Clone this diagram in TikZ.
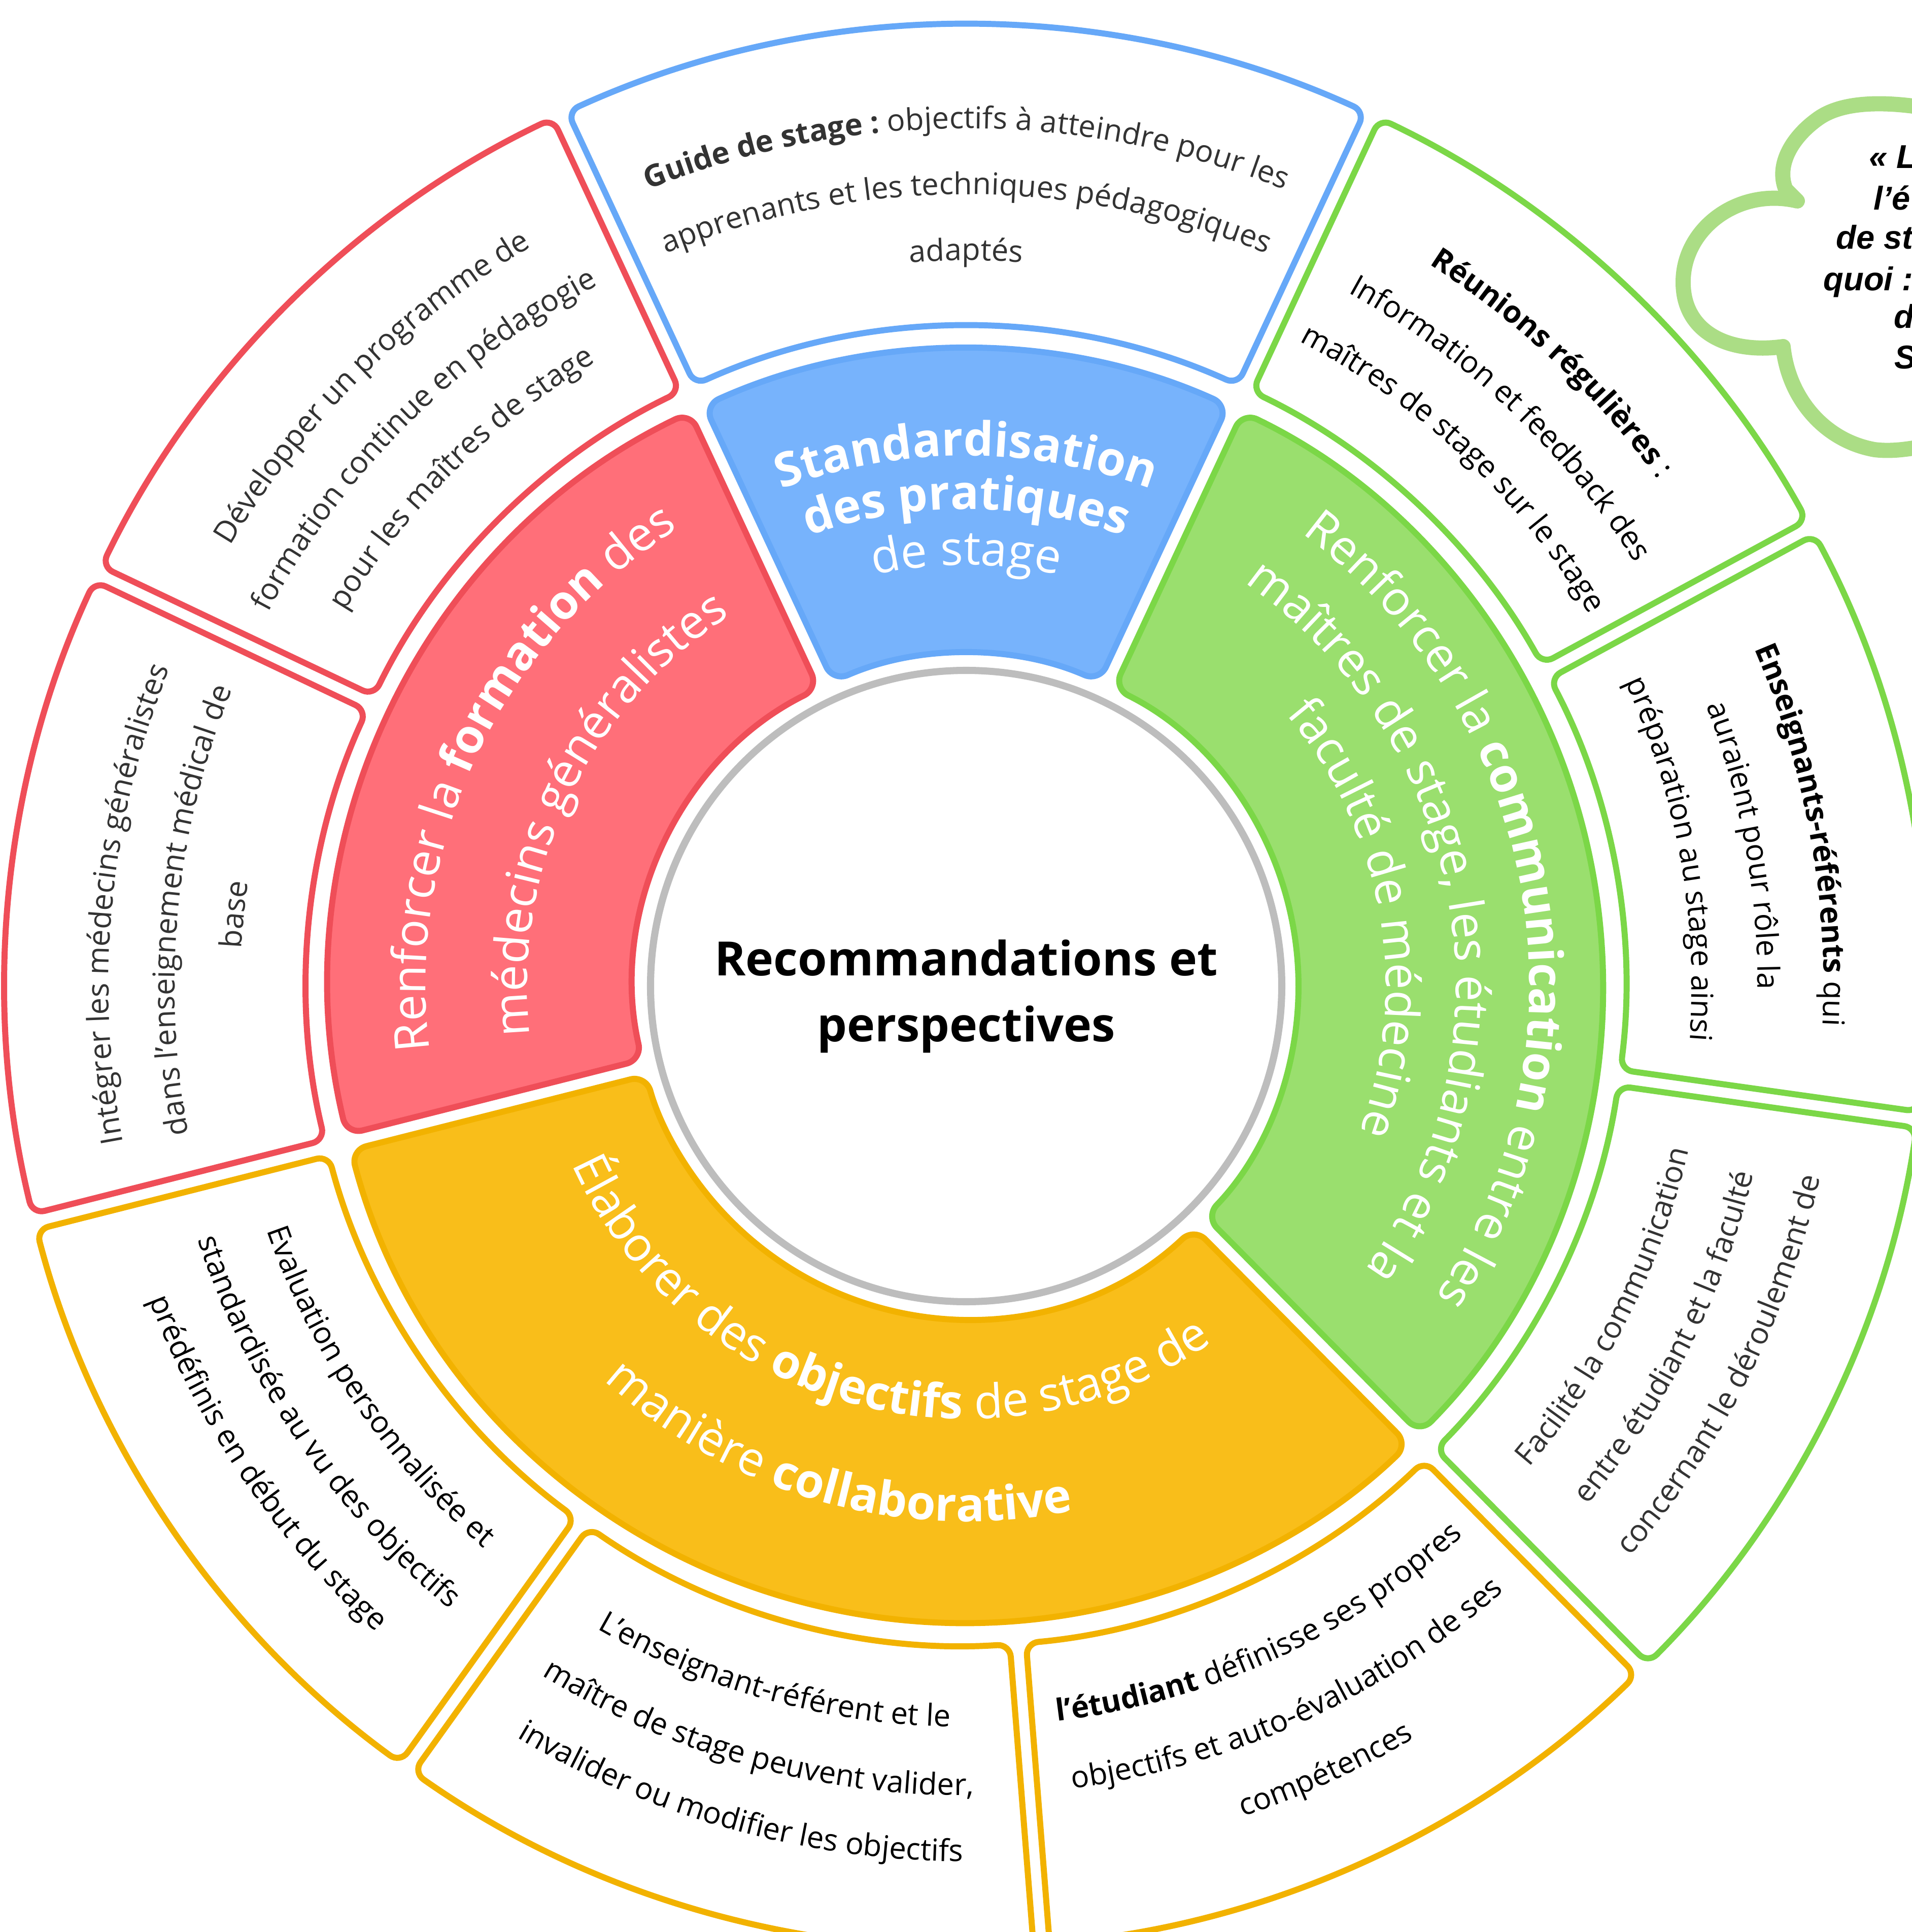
\documentclass[tikz,border=0pt]{standalone}
\usepackage{fontspec}
\setmainfont{Open Sans}
\newfontfamily\cloudfont{Liberation Sans}
\usetikzlibrary{decorations.text}

\definecolor{bluefill}{HTML}{77B3FC}
\definecolor{blueline}{HTML}{66A8F8}
\definecolor{redfill}{HTML}{FF6F79}
\definecolor{redline}{HTML}{EF4E58}
\definecolor{greenfill}{HTML}{9ADF6E}
\definecolor{greenline}{HTML}{7BD747}
\definecolor{yellowfill}{HTML}{F9BE1A}
\definecolor{yellowline}{HTML}{F2B200}
\definecolor{hubgray}{HTML}{BDBDBD}
\definecolor{cloudgreen}{HTML}{ABDD85}
\definecolor{darktext}{HTML}{333333}

\newcommand\cellfont{\fontsize{17pt}{20pt}\selectfont}
\newcommand\hubfont{\fontsize{26.5pt}{32pt}\selectfont}
% ring sector: start angle, end angle, inner radius, outer radius
\newcommand\ringsector[4]{({#1+asin(0.16/#4)}:#4) arc[start angle={#1+asin(0.16/#4)}, end angle={#2-asin(0.16/#4)}, radius=#4] -- ({#2-asin(0.16/#3)}:#3) arc[start angle={#2-asin(0.16/#3)}, end angle={#1+asin(0.16/#3)}, radius=#3] -- cycle}

\begin{document}
\begin{tikzpicture}[
    innersector/.style={draw=#1line, fill=#1fill, line width=3.4pt, rounded corners=9pt},
    outersector/.style={draw=#1line, fill=white, line width=3.4pt, rounded corners=7pt},
    ringtext/.style 2 args={decorate, decoration={text along path, text align=center, text color=#2, text={#1}}},
    cloudline/.style={anchor=base west, inner sep=0pt, font=\cloudfont\bfseries\itshape\fontsize{18.5pt}{22pt}\selectfont}
  ]
  \useasboundingbox (-19.04,-18.64) rectangle (18.64,19.43);
  \fill[white] (-19.04,-18.64) rectangle (18.64,19.43);

  % inner ring
  \draw[innersector=blue] \ringsector{65}{115}{6.55}{12.55};
  \draw[innersector=red] \ringsector{115}{194.2}{6.55}{12.55};
  \draw[innersector=yellow] \ringsector{194.2}{314.7}{6.55}{12.55};
  \draw[innersector=green] \ringsector{-45.3}{65}{6.55}{12.55};

  % outer ring
  \draw[outersector=blue] \ringsector{65}{115}{13}{18.94};
  \draw[outersector=red] \ringsector{115}{154.6}{13}{18.94};
  \draw[outersector=red] \ringsector{154.6}{194.2}{13}{18.94};
  \draw[outersector=yellow] \ringsector{194.2}{234.4}{13}{18.94};
  \draw[outersector=yellow] \ringsector{234.4}{274.5}{13}{18.94};
  \draw[outersector=yellow] \ringsector{274.5}{314.7}{13}{18.94};
  \draw[outersector=green] \ringsector{-45.3}{-8}{13}{18.94};
  \draw[outersector=green] \ringsector{-8}{28.5}{13}{18.94};
  \draw[outersector=green] \ringsector{28.5}{65}{13}{18.94};

  % hub
  \draw[hubgray, line width=4pt, fill=white] (0,0) circle[radius=6.22];
  \node[align=center, font=\bfseries\fontsize{26.5pt}{37pt}\selectfont] (hub) at (0,-0.2) {Recommandations et\\perspectives};

  % inner texts
  \path[ringtext={|\hubfont\bfseries|Standardisation}{white}] (115:10.45) arc[start angle=115, end angle=65, radius=10.45];
  \path[ringtext={|\hubfont\bfseries|des pratiques}{white}] (115:9.4) arc[start angle=115, end angle=65, radius=9.4];
  \path[ringtext={|\hubfont|de stage}{white}] (115:8.3) arc[start angle=115, end angle=65, radius=8.3];

  \path[ringtext={|\hubfont|Renforcer la |\hubfont\bfseries|formation|\hubfont\mdseries| des}{white}] (194:10.65) arc[start angle=194, end angle=115, radius=10.65];
  \path[ringtext={|\hubfont|médecins généralistes}{white}] (194:8.65) arc[start angle=194, end angle=115, radius=8.65];

  \path[ringtext={|\hubfont|Renforcer la |\hubfont\bfseries|communication|\hubfont\mdseries| entre les}{white}] (65:11.1) arc[start angle=65, end angle=-45, radius=11.1];
  \path[ringtext={|\hubfont|maîtres de stage, les étudiants et la}{white}] (65:9.65) arc[start angle=65, end angle=-45, radius=9.65];
  \path[ringtext={|\hubfont|faculté de médecine}{white}] (65:8.27) arc[start angle=65, end angle=-45, radius=8.27];

  \path[ringtext={|\hubfont|Élaborer des |\hubfont\bfseries|objectifs|\hubfont\mdseries| de stage de}{white}] (194.5:8.53) arc[start angle=194.5, end angle=314.5, radius=8.53];
  \path[ringtext={|\hubfont|manière |\hubfont\bfseries|collaborative}{white}] (194.5:10.55) arc[start angle=194.5, end angle=314.5, radius=10.55];

  % outer texts, clockwise
  \path[ringtext={|\cellfont\bfseries|Guide de stage :|\cellfont\mdseries| objectifs à atteindre pour les}{darktext}] (115:16.9) arc[start angle=115, end angle=65, radius=16.9];
  \path[ringtext={|\cellfont|apprenants et les techniques pédagogiques}{darktext}] (115:15.6) arc[start angle=115, end angle=65, radius=15.6];
  \path[ringtext={|\cellfont|adaptés}{darktext}] (115:14.3) arc[start angle=115, end angle=65, radius=14.3];

  \path[ringtext={|\cellfont|Développer un programme de}{darktext}] (154.6:16.9) arc[start angle=154.6, end angle=115, radius=16.9];
  \path[ringtext={|\cellfont|formation continue en pédagogie}{darktext}] (154.6:15.6) arc[start angle=154.6, end angle=115, radius=15.6];
  \path[ringtext={|\cellfont|pour les maîtres de stage}{darktext}] (154.6:14.3) arc[start angle=154.6, end angle=115, radius=14.3];

  \path[ringtext={|\cellfont|Intégrer les médecins généralistes}{darktext}] (194.2:16.9) arc[start angle=194.2, end angle=154.6, radius=16.9];
  \path[ringtext={|\cellfont|dans l'enseignement médical de}{darktext}] (194.2:15.6) arc[start angle=194.2, end angle=154.6, radius=15.6];
  \path[ringtext={|\cellfont|base}{darktext}] (194.2:14.3) arc[start angle=194.2, end angle=154.6, radius=14.3];

  \path[ringtext={|\cellfont\bfseries|Réunions régulières|\cellfont\mdseries| :}{black}] (65:16.9) arc[start angle=65, end angle=28.5, radius=16.9];
  \path[ringtext={|\cellfont|Information et feedback des}{black}] (65:15.6) arc[start angle=65, end angle=28.5, radius=15.6];
  \path[ringtext={|\cellfont|maîtres de stage sur le stage}{black}] (65:14.3) arc[start angle=65, end angle=28.5, radius=14.3];

  \path[ringtext={|\cellfont\bfseries|Enseignants-référents|\cellfont\mdseries| qui}{black}] (28.5:16.9) arc[start angle=28.5, end angle=-8, radius=16.9];
  \path[ringtext={|\cellfont|auraient pour rôle la}{black}] (28.5:15.6) arc[start angle=28.5, end angle=-8, radius=15.6];
  \path[ringtext={|\cellfont|préparation au stage ainsi}{black}] (28.5:14.3) arc[start angle=28.5, end angle=-8, radius=14.3];

  % outer texts, counterclockwise
  \path[ringtext={|\cellfont|Facilité la communication}{darktext}] (-45.3:14.6) arc[start angle=-45.3, end angle=-8, radius=14.6];
  \path[ringtext={|\cellfont|entre étudiant et la faculté}{darktext}] (-45.3:15.95) arc[start angle=-45.3, end angle=-8, radius=15.95];
  \path[ringtext={|\cellfont|concernant le déroulement de}{darktext}] (-45.3:17.25) arc[start angle=-45.3, end angle=-8, radius=17.25];

  \path[ringtext={|\cellfont|Evaluation personnalisée et}{black}] (194.2:14.6) arc[start angle=194.2, end angle=234.4, radius=14.6];
  \path[ringtext={|\cellfont|standardisée au vu des objectifs}{black}] (194.2:15.95) arc[start angle=194.2, end angle=234.4, radius=15.95];
  \path[ringtext={|\cellfont|prédéfinis en début du stage}{black}] (194.2:17.25) arc[start angle=194.2, end angle=234.4, radius=17.25];

  \path[ringtext={|\cellfont|L’enseignant-référent et le}{black}] (234.4:14.6) arc[start angle=234.4, end angle=274.5, radius=14.6];
  \path[ringtext={|\cellfont|maître de stage peuvent valider,}{black}] (234.4:15.95) arc[start angle=234.4, end angle=274.5, radius=15.95];
  \path[ringtext={|\cellfont|invalider ou modifier les objectifs}{black}] (234.4:17.25) arc[start angle=234.4, end angle=274.5, radius=17.25];

  \path[ringtext={|\cellfont\bfseries|l’étudiant|\cellfont\mdseries| définisse ses propres}{black}] (274.5:14.6) arc[start angle=274.5, end angle=314.7, radius=14.6];
  \path[ringtext={|\cellfont|objectifs et auto-évaluation de ses}{black}] (274.5:15.95) arc[start angle=274.5, end angle=314.7, radius=15.95];
  \path[ringtext={|\cellfont|compétences}{black}] (274.5:17.25) arc[start angle=274.5, end angle=314.7, radius=17.25];

  % cloud
  \draw[cloudgreen, line width=8.5pt, line cap=round, line join=round, fill=white]
    (19.2,17.25) .. controls (18.2,17.45) and (17.3,17.45) .. (16.8,17.1)
    .. controls (16.3,16.75) and (15.95,16.2) .. (16.15,15.7) -- (16.38,15.47)
    .. controls (15.2,15.75) and (14.1,14.9) .. (14.13,13.83)
    .. controls (14.15,12.9) and (15.0,12.45) .. (16.1,12.6)
    .. controls (16.2,11.6) and (16.9,10.75) .. (17.9,10.57)
    .. controls (18.3,10.52) and (18.7,10.6) .. (19.2,10.7);
  \node[cloudline] (cloudA) at (17.79,16.11) {« L};
  \node[cloudline] (cloudB) at (17.88,15.29) {l’é};
  \node[cloudline] (cloudC) at (17.14,14.52) {de st};
  \node[cloudline] (cloudD) at (16.89,13.70) {quoi :};
  \node[cloudline] (cloudE) at (18.28,12.96) {d};
  \node[cloudline] (cloudF) at (18.29,12.16) {S};
\end{tikzpicture}
\end{document}
